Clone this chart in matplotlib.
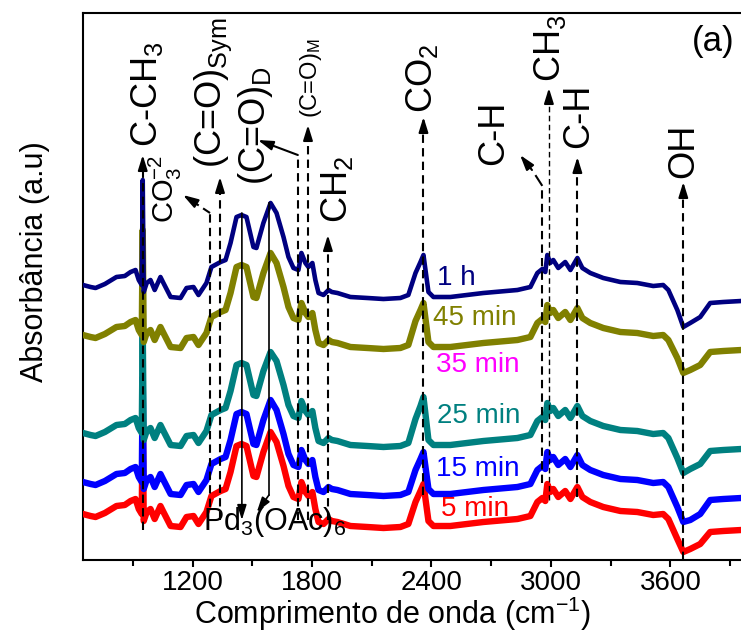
import matplotlib
matplotlib.use("Agg")
import matplotlib.pyplot as plt
from matplotlib.ticker import FixedLocator

plt.rcParams['font.family'] = ['Liberation Sans', 'DejaVu Sans']
plt.rcParams['mathtext.fontset'] = 'custom'
plt.rcParams['mathtext.rm'] = 'Liberation Sans'
plt.rcParams['mathtext.it'] = 'Liberation Sans:italic'
plt.rcParams['mathtext.bf'] = 'Liberation Sans:bold'
plt.rcParams['mathtext.default'] = 'regular'

# ---------------- data (arbitrary absorbance units, stacked) ----------------
wavenumber = [650, 688, 713, 760, 818, 860, 889, 914, 930, 945,
              950, 955, 970, 989, 1010, 1039, 1054, 1090, 1140, 1170,
              1205, 1230, 1270, 1295, 1341, 1366, 1391, 1421, 1446, 1471,
              1506, 1521, 1556, 1592, 1622, 1657, 1682, 1707, 1732, 1747,
              1767, 1782, 1802, 1817, 1833, 1858, 1883, 1900, 1928, 1993,
              2079, 2159, 2244, 2284, 2320, 2345, 2360, 2385, 2410, 2495,
              2661, 2832, 2897, 2932, 2957, 2972, 2982, 2997, 3012, 3037,
              3072, 3098, 3133, 3158, 3198, 3263, 3349, 3434, 3514, 3564,
              3590, 3635, 3665, 3700, 3750, 3800, 3866, 3956, 4000]

abs_1h = [275, 273, 272, 276, 283, 284, 288, 290, 280, 275,
          380, 268, 277, 280, 270, 283, 277, 263, 262, 272,
          273, 265, 277, 293, 298, 300, 317, 343, 345, 343,
          313, 312, 337, 357, 347, 323, 303, 292, 290, 307,
          297, 293, 297, 280, 267, 265, 270, 268, 267, 263,
          262, 261, 262, 265, 287, 298, 305, 268, 263, 263,
          267, 270, 273, 287, 291, 288, 305, 297, 300, 292,
          298, 290, 302, 292, 287, 282, 278, 277, 274, 275,
          270, 250, 233, 237, 243, 257, 258, 259, 259]

abs_45min = [225, 223, 222, 226, 233, 234, 238, 240, 230, 225,
             330, 218, 227, 230, 220, 233, 227, 213, 212, 222,
             223, 215, 227, 243, 248, 250, 267, 293, 295, 293,
             263, 262, 287, 307, 297, 273, 253, 242, 240, 257,
             247, 243, 247, 230, 217, 215, 220, 218, 217, 213,
             212, 211, 212, 215, 239, 250, 257, 218, 213, 213,
             217, 220, 223, 237, 241, 238, 255, 247, 250, 242,
             248, 240, 252, 242, 237, 232, 228, 227, 224, 225,
             220, 202, 187, 190, 195, 208, 209, 210, 210]

abs_25min = [127, 125, 124, 128, 135, 136, 140, 142, 132, 127,
             232, 120, 129, 132, 122, 135, 129, 115, 114, 124,
             125, 117, 129, 145, 150, 152, 169, 195, 197, 195,
             165, 164, 189, 208, 199, 175, 155, 144, 142, 159,
             149, 145, 149, 132, 119, 117, 122, 120, 119, 115,
             114, 113, 114, 117, 141, 154, 163, 120, 115, 115,
             119, 122, 125, 139, 143, 140, 157, 149, 152, 144,
             150, 142, 154, 144, 139, 134, 130, 129, 126, 127,
             122, 102, 87, 91, 96, 109, 110, 111, 111]

abs_15min = [78, 76, 75, 79, 86, 87, 91, 93, 83, 78,
             183, 71, 80, 83, 73, 86, 80, 66, 65, 75,
             76, 68, 80, 96, 101, 103, 120, 146, 148, 146,
             116, 115, 140, 160, 150, 126, 106, 95, 93, 110,
             100, 96, 100, 83, 70, 68, 73, 71, 70, 66,
             65, 64, 65, 68, 90, 101, 108, 71, 66, 66,
             70, 73, 76, 90, 94, 91, 108, 100, 103, 95,
             101, 93, 105, 95, 90, 85, 81, 80, 77, 78,
             73, 53, 38, 40, 46, 60, 61, 62, 63]

abs_5min = [46, 44, 43, 47, 54, 55, 59, 61, 51, 46,
            151, 39, 48, 51, 41, 54, 48, 34, 33, 43,
            44, 36, 48, 64, 69, 71, 88, 114, 116, 114,
            84, 83, 108, 128, 118, 94, 74, 63, 61, 78,
            68, 64, 68, 51, 38, 36, 41, 39, 38, 34,
            33, 32, 33, 36, 58, 69, 76, 39, 34, 34,
            38, 41, 44, 58, 62, 59, 76, 68, 71, 63,
            69, 61, 73, 63, 58, 53, 49, 48, 45, 46,
            41, 21, 8, 11, 16, 28, 29, 30, 30]

series_names = ['5 min', '15 min', '25 min', '45 min', '1 h']
series_values = [abs_5min, abs_15min, abs_25min, abs_45min, abs_1h]
label_35min = '35 min'

x_major_ticks = [1200, 1800, 2400, 3000, 3600]
x_minor_ticks = [900, 1500, 2100, 2700, 3300, 3900]

# band assignments (cm-1)
band_c_ch3 = 950
band_co3 = 1288
band_co_sym = 1338
band_co_d = [1448, 1584]
band_co_m = [1729, 1780]
band_ch2 = 1880
band_co2 = 2360
band_ch_a = 2954
band_ch3 = 2990
band_ch_b = 3133
band_oh = 3665

# ---------------- styles ----------------
colors = ['#ff0000', '#0000ff', '#008080', '#808000', '#000080']
widths = [4.6, 4.6, 4.6, 4.6, 3.3]
label_color_35 = '#ff00ff'

W, H = 741, 632
fig = plt.figure(figsize=(W / 100, H / 100), dpi=100)
ax = fig.add_axes([83 / W, 72 / H, 667 / W, 547 / H])

for vals, c, lw in zip(series_values, colors, widths):
    ax.plot(wavenumber, vals, color=c, lw=lw, solid_joinstyle='round', zorder=3)

ax.set_xlim(650, 4000)
ax.set_ylim(0, 547)
ax.xaxis.set_major_locator(FixedLocator(x_major_ticks))
ax.xaxis.set_minor_locator(FixedLocator(x_minor_ticks))
ax.set_yticks([])
ax.tick_params(axis='x', which='major', direction='out', length=5, width=1.5,
               labelsize=20, pad=2)
ax.tick_params(axis='x', which='minor', direction='out', length=4, width=1.5)
for s in ax.spines.values():
    s.set_linewidth(1.5)

fig.text(392 / W, 1 - 624 / H, 'Comprimento de onda (cm$^{-1}$)', ha='center',
         va='baseline', fontsize=22)
fig.text(35 / W, 1 - 262 / H, 'Absorbância (a.u)', rotation=90, ha='center',
         va='center', fontsize=22)

DASH = (0, (4, 2.5))
AKW = dict(arrowstyle='-|>,head_length=0.9,head_width=0.28', color='k', lw=1.5,
           shrinkA=0, shrinkB=0)


def dashed_up(x, y0, y1, lw=1.5):
    ax.plot([x, x], [y0, y1 - 8], color='k', lw=lw, ls=DASH, zorder=10)
    ax.annotate('', xy=(x, y1), xytext=(x, y1 - 13), arrowprops=AKW, zorder=11)


def rtext(x, y, s, fs=26):
    ax.text(x, y, s, rotation=90, ha='center', va='bottom', fontsize=fs, zorder=12)


# C-CH3
dashed_up(band_c_ch3, 30, 405)
rtext(971, 413, 'C-CH$_3$')
# CO3
ax.plot([band_co3, band_co3], [53, 347], color='k', lw=1.5, ls=DASH, zorder=10)
ax.plot([band_co3, 1190], [347, 360], color='k', lw=1.5, ls=DASH, zorder=10)
ax.annotate('', xy=(1152, 365), xytext=(1200, 359), arrowprops=AKW, zorder=11)
rtext(1062, 337, 'CO$_3^{-2}$', fs=21)
# (C=O)Sym
dashed_up(band_co_sym, 40, 383)
rtext(1303, 392, '(C=O)$_{\\mathrm{Sym}}$')
# (C=O)D solid lines to Pd3(OAc)6
ax.annotate('', xy=(band_co_d[0], 40), xytext=(band_co_d[0], 347),
            arrowprops=dict(AKW, lw=1.2), zorder=11)
ax.plot([band_co_d[1], band_co_d[1]], [357, 65], color='k', lw=1.2, zorder=10)
ax.annotate('', xy=(1523, 48), xytext=(band_co_d[1], 65),
            arrowprops=dict(AKW, lw=1.2), zorder=11)
rtext(1518, 375, '(C=O)$_{\\mathrm{D}}$')
# (C=O)M
dashed_up(band_co_m[1], 40, 435)
ax.plot([band_co_m[0], band_co_m[0]], [40, 405], color='k', lw=1.5, ls=DASH, zorder=10)
ax.annotate('', xy=(1528, 420), xytext=(band_co_m[0], 405), arrowprops=AKW, zorder=11)
rtext(1795, 442, '(C=O)$_{\\mathrm{M}}$', fs=17)
# CH2
dashed_up(band_ch2, 40, 325)
rtext(1925, 337, 'CH$_2$')
# CO2
dashed_up(band_co2, 65, 443)
rtext(2352, 447, 'CO$_2$')
# C-H (left, kinked)
ax.plot([band_ch_a, band_ch_a], [77, 375], color='k', lw=1.5, ls=DASH, zorder=10)
ax.plot([band_ch_a, 2925], [375, 384], color='k', lw=1.5, zorder=10)
ax.annotate('', xy=(2845, 405), xytext=(2905, 390), arrowprops=AKW, zorder=11)
rtext(2713, 395, 'C-H')
# CH3
dashed_up(band_ch3, 60, 472, lw=1.0)
rtext(2994, 478, 'CH$_3$')
# C-H (right)
dashed_up(band_ch_b, 63, 403)
rtext(3139, 412, 'C-H')
# OH
dashed_up(band_oh, 0, 378)
rtext(3667, 382, 'OH')

# Pd3(OAc)6
ax.text(1252, 30, 'Pd$_3$(OAc)$_6$', ha='left', va='baseline', fontsize=22, zorder=12)

# series labels
label_pos = {'1 h': (2527, 282), '45 min': (2618, 242), '25 min': (2638, 144),
             '15 min': (2633, 91), '5 min': (2618, 51)}
for name, c in zip(series_names, colors):
    x, y = label_pos[name]
    ax.text(x, y, name, color=c, ha='center', va='center', fontsize=20, zorder=12)
ax.text(2633, 195, label_35min, color=label_color_35, ha='center', va='center',
        fontsize=20, zorder=12)

fig.text(713 / W, 1 - 42 / H, '(a)', ha='center', va='center', fontsize=25)

fig.savefig('out.png', dpi=100)
